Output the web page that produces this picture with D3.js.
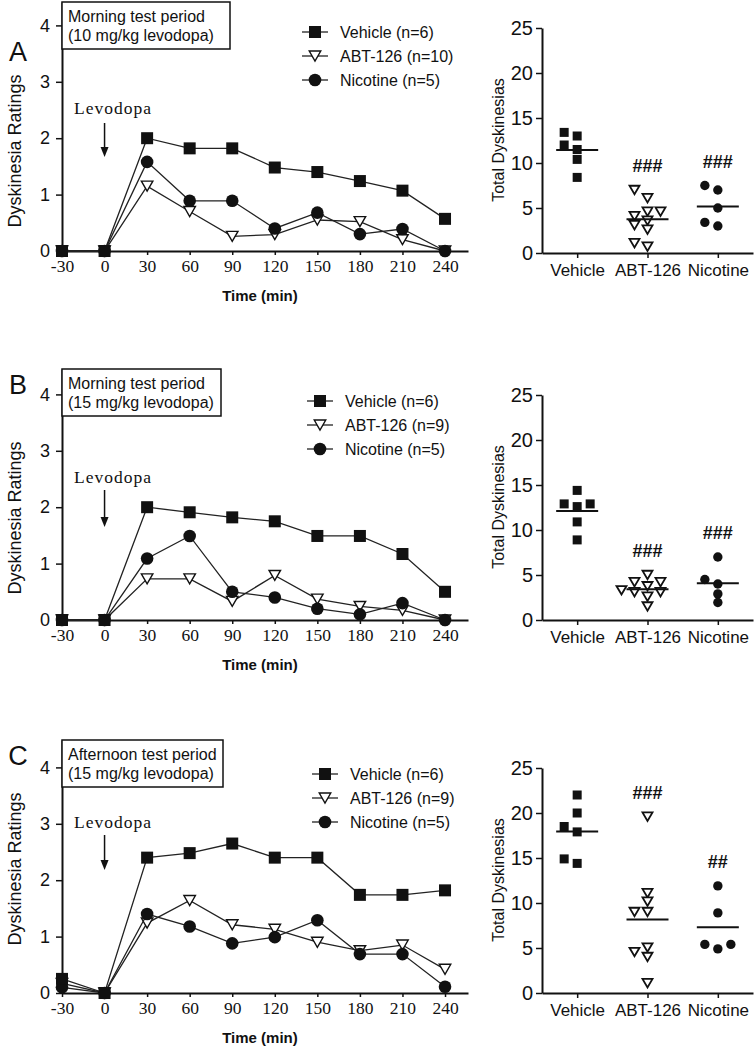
<!DOCTYPE html>
<html><head><meta charset="utf-8">
<script src="https://cdn.jsdelivr.net/npm/d3@7"></script>
<style>body{margin:0;background:#fff} svg{display:block}</style>
</head><body><svg id="chart" width="754" height="1048"></svg>
<script>
// ---------------- DATA ----------------
const timePoints = [-30, 0, 30, 60, 90, 120, 150, 180, 210, 240];
const seriesNames = ["Vehicle", "ABT-126", "Nicotine"];
const categories = ["Vehicle", "ABT-126", "Nicotine"];
const panelLetters = ["A", "B", "C"];
const boxLine1 = ["Morning test period", "Morning test period", "Afternoon test period"];
const boxLine2 = ["(10 mg/kg levodopa)", "(15 mg/kg levodopa)", "(15 mg/kg levodopa)"];
const groupN = [[6, 10, 5], [6, 9, 5], [6, 9, 5]];
const yTicksRating = [0, 1, 2, 3, 4];
const yTicksTotal = [0, 5, 10, 15, 20, 25];
const arrowLabel = "Levodopa";
const xTitle = "Time (min)";
const yTitleRating = "Dyskinesia Ratings";
const yTitleTotal = "Total Dyskinesias";

// time-course means (Dyskinesia Ratings)
const vehicleA  = [0, 0, 2.00, 1.82, 1.82, 1.48, 1.40, 1.24, 1.07, 0.57];
const abtA      = [0, 0, 1.15, 0.70, 0.26, 0.29, 0.55, 0.52, 0.20, 0];
const nicotineA = [0, 0, 1.58, 0.89, 0.89, 0.40, 0.68, 0.30, 0.39, 0];

const vehicleB  = [0, 0, 2.00, 1.91, 1.82, 1.75, 1.49, 1.49, 1.17, 0.50];
const abtB      = [0, 0, 0.73, 0.73, 0.33, 0.79, 0.37, 0.24, 0.17, 0];
const nicotineB = [0, 0, 1.09, 1.49, 0.50, 0.40, 0.20, 0.10, 0.30, 0];

const vehicleC  = [0.25, 0, 2.40, 2.48, 2.65, 2.40, 2.40, 1.74, 1.74, 1.82];
const abtC      = [0.17, 0, 1.24, 1.64, 1.21, 1.13, 0.90, 0.75, 0.85, 0.42];
const nicotineC = [0.10, 0, 1.40, 1.18, 0.88, 0.99, 1.29, 0.69, 0.69, 0.11];

// individual totals (Total Dyskinesias)
const totalVehicleA  = [11.5, 13.0, 13.4, 12.0, 10.4, 8.4];
const totalAbtA      = [6.1, 7.0, 4.1, 4.6, 4.6, 3.6, 3.1, 2.6, 1.1, 0.7];
const totalNicotineA = [7.0, 7.5, 5.0, 3.0, 3.4];

const totalVehicleB  = [14.4, 12.6, 12.9, 12.9, 10.9, 8.9];
const totalAbtB      = [5.0, 4.2, 4.2, 3.75, 3.1, 3.1, 2.6, 3.3, 1.5];
const totalNicotineB = [7.0, 4.5, 4.0, 2.9, 1.95];

const totalVehicleC  = [22.0, 20.0, 18.5, 17.9, 14.9, 14.4];
const totalAbtC      = [19.6, 11.1, 10.15, 9.0, 9.0, 4.55, 5.05, 4.0, 1.1];
const totalNicotineC = [11.9, 8.9, 5.4, 5.4, 4.9];

const sigA = ["", "###", "###"];
const sigB = ["", "###", "###"];
const sigC = ["", "###", "##"];

// ---------------- LAYOUT ----------------
const rows = [
  {line: [vehicleA, abtA, nicotineA], totals: [totalVehicleA, totalAbtA, totalNicotineA], sig: sigA,
   zero: 251, top: 2, letterY: 52, boxW: 168, legX: 315, levY: -143, arrow: [-128, -94], ylabY: 151, zero2: 253},
  {line: [vehicleB, abtB, nicotineB], totals: [totalVehicleB, totalAbtB, totalNicotineB], sig: sigB,
   zero: 620, top: 369, letterY: 385, boxW: 159, legX: 320, levY: -143, arrow: [-130, -93], ylabY: 518, zero2: 620},
  {line: [vehicleC, abtC, nicotineC], totals: [totalVehicleC, totalAbtC, totalNicotineC], sig: sigC,
   zero: 993, top: 740, letterY: 756, boxW: 161, legX: 325, levY: -171, arrow: [-158, -123], ylabY: 869, zero2: 993}
];
const SANS = "'Liberation Sans', Arial, sans-serif";
const SERIF = "'Liberation Serif', 'Times New Roman', serif";
const INK = "#111";
const markerTypes = ["square", "triangle", "circle"];
const drawOrder = [1, 2, 0];

const svg = d3.select("#chart");

function drawMarker(g, type, x, y, big) {
  if (type === "square") {
    const s = big ? 12 : 9;
    g.append("rect").attr("x", x - s / 2).attr("y", y - s / 2).attr("width", s).attr("height", s).attr("fill", INK);
  } else if (type === "circle") {
    g.append("circle").attr("cx", x).attr("cy", y).attr("r", big ? 6.3 : 4.7).attr("fill", INK);
  } else {
    const w = big ? 11.5 : 10, h = big ? 10 : 8.5;
    g.append("path")
      .attr("d", `M${x - w / 2},${y - h / 2}L${x + w / 2},${y - h / 2}L${x},${y + h / 2}Z`)
      .attr("fill", "#fff").attr("stroke", INK).attr("stroke-width", big ? 1.4 : 1.8)
      .attr("stroke-linejoin", "miter");
  }
}

function styleAxis(g, size, family, weight) {
  g.select(".domain").attr("stroke", INK).attr("stroke-width", 2);
  g.selectAll(".tick line").attr("stroke", INK).attr("stroke-width", 1.5);
  g.selectAll(".tick text").attr("fill", INK).attr("font-size", size).attr("font-family", family)
    .attr("font-weight", weight || "normal");
}

function swarmOffsets(values, yS) {
  const idx = values.map((v, i) => i).sort((a, b) => values[a] - values[b]);
  const placed = [];
  const offsets = new Array(values.length).fill(0);
  const step = 13, thr = 8.5;
  idx.forEach(i => {
    const py = yS(values[i]);
    for (const k of [0, -1, 1, -2, 2, -3, 3]) {
      const dx = k * step;
      const hit = placed.some(p => Math.abs(p.dx - dx) < step - 0.5 && Math.abs(p.y - py) < thr);
      if (!hit) { offsets[i] = dx; placed.push({dx, y: py}); break; }
    }
  });
  return offsets;
}

rows.forEach((r, ri) => {
  const g = svg.append("g");
  // ---- line chart ----
  const x = d3.scaleLinear().domain([-30, 256.2]).range([62, 468]);
  const pxPerUnit = 56.4;
  const y = d3.scaleLinear().domain([0, (r.zero - r.top) / pxPerUnit]).range([r.zero, r.top]);

  const xa = g.append("g").attr("transform", `translate(0,${r.zero})`)
    .call(d3.axisBottom(x).tickValues(timePoints).tickSize(4).tickSizeOuter(0).tickPadding(5).tickFormat(d => String(d)));
  styleAxis(xa, 17.5, SERIF);
  const ya = g.append("g").attr("transform", `translate(62,0)`)
    .call(d3.axisLeft(y).tickValues(yTicksRating).tickSize(6).tickSizeOuter(0).tickPadding(6).tickFormat(d => String(d)));
  styleAxis(ya, 18, SANS);

  // text box
  g.append("rect").attr("x", 62).attr("y", r.top).attr("width", r.boxW).attr("height", 47)
    .attr("fill", "#fff").attr("stroke", INK).attr("stroke-width", 1.5);
  [boxLine1[ri], boxLine2[ri]].forEach((t, k) => {
    g.append("text").attr("x", 68).attr("y", r.top + 14 + k * 19).attr("dominant-baseline", "central")
      .attr("font-family", SANS).attr("font-size", 16).attr("fill", INK).text(t);
  });

  // panel letter
  g.append("text").attr("x", 18).attr("y", r.letterY).attr("text-anchor", "middle").attr("dominant-baseline", "central")
    .attr("font-family", SANS).attr("font-size", 27).attr("fill", INK).text(panelLetters[ri]);

  // axis titles
  g.append("text").attr("transform", `translate(15,${r.ylabY}) rotate(-90)`).attr("text-anchor", "middle")
    .attr("dominant-baseline", "central").attr("font-family", SANS).attr("font-size", 18).attr("fill", INK).text(yTitleRating);
  g.append("text").attr("x", 260).attr("y", r.zero + 44).attr("text-anchor", "middle").attr("dominant-baseline", "central")
    .attr("font-family", SANS).attr("font-size", 15).attr("font-weight", "bold").attr("fill", INK).text(xTitle);

  // Levodopa arrow
  const ax = x(0);
  g.append("text").attr("x", 74).attr("y", r.zero + r.levY).attr("dominant-baseline", "central")
    .attr("font-family", SERIF).attr("font-size", 17.5).attr("letter-spacing", 1).attr("fill", INK).text(arrowLabel);
  const a0 = r.zero + r.arrow[0], a1 = r.zero + r.arrow[1];
  g.append("line").attr("x1", ax).attr("x2", ax).attr("y1", a0).attr("y2", a1 - 8).attr("stroke", INK).attr("stroke-width", 1.5);
  g.append("path").attr("d", `M${ax - 4},${a1 - 10}L${ax + 4},${a1 - 10}L${ax},${a1}Z`).attr("fill", INK);

  // series
  const line = d3.line().x((d, i) => x(timePoints[i])).y(d => y(d));
  drawOrder.forEach(si => {
    const data = r.line[si];
    g.append("path").attr("d", line(data)).attr("fill", "none").attr("stroke", "#222").attr("stroke-width", 1.3);
    data.forEach((v, i) => drawMarker(g, markerTypes[si], x(timePoints[i]), y(v), true));
  });

  // legend
  seriesNames.forEach((name, si) => {
    const ly = r.zero - 219 + si * 24;
    g.append("line").attr("x1", r.legX - 13).attr("x2", r.legX + 13).attr("y1", ly).attr("y2", ly)
      .attr("stroke", "#222").attr("stroke-width", 1.3);
    drawMarker(g, markerTypes[si], r.legX, ly, true);
    g.append("text").attr("x", r.legX + 25).attr("y", ly).attr("dominant-baseline", "central")
      .attr("font-family", SANS).attr("font-size", 16).attr("fill", INK).text(`${name} (n=${groupN[ri][si]})`);
  });

  // ---- scatter (totals) ----
  const xs = d3.scalePoint().domain(categories).range([542, 753]).padding(0.5);
  const ys = d3.scaleLinear().domain([0, 25]).range([r.zero2, r.zero2 - 225]);
  const xsa = g.append("g").attr("transform", `translate(0,${r.zero2})`)
    .call(d3.axisBottom(xs).tickSize(5).tickSizeOuter(0).tickPadding(6));
  styleAxis(xsa, 17, SANS);
  const ysa = g.append("g").attr("transform", `translate(542,0)`)
    .call(d3.axisLeft(ys).tickValues(yTicksTotal).tickSize(6).tickSizeOuter(0).tickPadding(3));
  styleAxis(ysa, 20, SANS);
  g.append("text").attr("transform", `translate(498,${r.zero2 - 113}) rotate(-90)`).attr("text-anchor", "middle")
    .attr("dominant-baseline", "central").attr("font-family", SANS).attr("font-size", 16).attr("fill", INK).text(yTitleTotal);

  categories.forEach((c, ci) => {
    const vals = r.totals[ci];
    const cx = xs(c);
    const offs = swarmOffsets(vals, ys);
    vals.forEach((v, i) => drawMarker(g, markerTypes[ci], cx + offs[i], ys(v), false));
    const m = d3.mean(vals);
    g.append("line").attr("x1", cx - 21).attr("x2", cx + 21).attr("y1", ys(m)).attr("y2", ys(m))
      .attr("stroke", INK).attr("stroke-width", 2);
    if (r.sig[ci]) {
      g.append("text").attr("x", cx).attr("y", ys(d3.max(vals)) - 24).attr("text-anchor", "middle")
        .attr("dominant-baseline", "central").attr("font-family", SANS).attr("font-size", 18)
        .attr("font-weight", "bold").attr("fill", INK).text(r.sig[ci]);
    }
  });
});
</script></body></html>
